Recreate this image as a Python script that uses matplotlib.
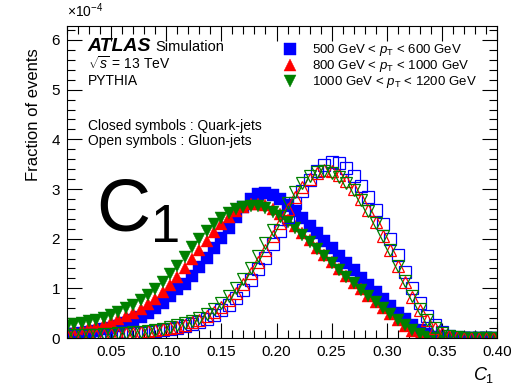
import numpy as np
import matplotlib
matplotlib.use("Agg")
import matplotlib.pyplot as plt
from matplotlib.ticker import MultipleLocator

plt.rcParams['font.family'] = ['Liberation Sans', 'DejaVu Sans']
plt.rcParams['mathtext.fontset'] = 'custom'
plt.rcParams['mathtext.rm'] = 'Liberation Sans'
plt.rcParams['mathtext.it'] = 'Liberation Sans:italic'

# bin centres of C1 (bin width 1/150)
c1 = np.round(0.01 + np.arange(59) / 150.0, 4)

# fraction of events, units of 1e-4
quark_500 = [0.08, 0.09, 0.11, 0.13, 0.15, 0.18, 0.21, 0.25, 0.30, 0.36,
             0.43, 0.51, 0.60, 0.71, 0.84, 0.98, 1.08, 1.25, 1.43, 1.62,
             1.82, 2.02, 2.22, 2.44, 2.64, 2.80, 2.90, 2.92, 2.88, 2.80,
             2.68, 2.55, 2.41, 2.26, 2.11, 1.96, 1.81, 1.66, 1.51, 1.36,
             1.21, 1.06, 0.92, 0.78, 0.64, 0.51, 0.38, 0.26, 0.16, 0.08,
             0.03, 0.01, 0.0, 0.0, 0.0, 0.0, 0.0, 0.0, 0.0]
quark_800 = [0.15, 0.17, 0.19, 0.22, 0.25, 0.29, 0.33, 0.38, 0.44, 0.51,
             0.59, 0.68, 0.79, 0.92, 1.06, 1.22, 1.40, 1.59, 1.78, 1.96,
             2.14, 2.30, 2.44, 2.56, 2.64, 2.69, 2.70, 2.67, 2.60, 2.50,
             2.38, 2.25, 2.11, 1.97, 1.82, 1.67, 1.53, 1.39, 1.25, 1.11,
             0.98, 0.85, 0.72, 0.60, 0.48, 0.36, 0.25, 0.15, 0.07, 0.02,
             0.0, 0.0, 0.0, 0.0, 0.0, 0.0, 0.0, 0.0, 0.0]
quark_1000 = [0.25, 0.28, 0.31, 0.34, 0.37, 0.41, 0.47, 0.53, 0.60, 0.67,
              0.76, 0.87, 0.99, 1.13, 1.29, 1.46, 1.64, 1.83, 2.00, 2.16,
              2.30, 2.42, 2.52, 2.59, 2.64, 2.66, 2.65, 2.61, 2.54, 2.45,
              2.34, 2.21, 2.08, 1.93, 1.79, 1.65, 1.51, 1.37, 1.23, 1.10,
              0.97, 0.84, 0.72, 0.60, 0.48, 0.37, 0.26, 0.16, 0.08, 0.03,
              0.01, 0.0, 0.0, 0.0, 0.0, 0.0, 0.0, 0.0, 0.0]
gluon_500 = [0.05, 0.05, 0.05, 0.06, 0.06, 0.07, 0.07, 0.08, 0.09, 0.10,
             0.11, 0.12, 0.14, 0.16, 0.18, 0.21, 0.24, 0.28, 0.33, 0.39,
             0.47, 0.56, 0.67, 0.81, 0.97, 1.16, 1.38, 1.62, 1.89, 2.16,
             2.44, 2.71, 2.96, 3.18, 3.36, 3.49, 3.55, 3.52, 3.42, 3.27,
             3.07, 2.84, 2.58, 2.30, 2.00, 1.67, 1.33, 1.00, 0.70, 0.45,
             0.26, 0.13, 0.05, 0.02, 0.0, 0.0, 0.0, 0.0, 0.0]
gluon_800 = [0.05, 0.05, 0.06, 0.06, 0.07, 0.07, 0.08, 0.09, 0.10, 0.11,
             0.12, 0.14, 0.16, 0.18, 0.20, 0.23, 0.27, 0.32, 0.37, 0.44,
             0.53, 0.63, 0.76, 0.91, 1.09, 1.30, 1.53, 1.78, 2.05, 2.32,
             2.59, 2.84, 3.05, 3.21, 3.32, 3.38, 3.37, 3.29, 3.16, 3.00,
             2.80, 2.58, 2.33, 2.06, 1.77, 1.45, 1.13, 0.83, 0.57, 0.36,
             0.20, 0.10, 0.04, 0.015, 0.0, 0.0, 0.0, 0.0, 0.0]
gluon_1000 = [0.06, 0.06, 0.06, 0.07, 0.07, 0.08, 0.09, 0.10, 0.11, 0.12,
              0.13, 0.15, 0.17, 0.19, 0.22, 0.26, 0.30, 0.35, 0.41, 0.49,
              0.59, 0.70, 0.84, 1.00, 1.19, 1.41, 1.65, 1.91, 2.18, 2.45,
              2.71, 2.94, 3.13, 3.26, 3.34, 3.36, 3.33, 3.25, 3.12, 2.97,
              2.78, 2.56, 2.32, 2.06, 1.78, 1.46, 1.14, 0.84, 0.58, 0.37,
              0.21, 0.10, 0.04, 0.015, 0.0, 0.0, 0.0, 0.0, 0.0]

labels = [r'500 GeV < $p_{\rm T}$ < 600 GeV',
          r'800 GeV < $p_{\rm T}$ < 1000 GeV',
          r'1000 GeV < $p_{\rm T}$ < 1200 GeV']
colors = ['#0000ff', '#ff0000', '#008000']
markers = ['s', '^', 'v']
sizes = [8.0, 9.0, 9.0]

fig = plt.figure(figsize=(5.21, 3.89), dpi=100)
ax = fig.add_axes([0.1286, 0.131, 0.8254, 0.802])

quarks = [quark_500, quark_800, quark_1000]
gluons = [gluon_500, gluon_800, gluon_1000]

handles = []
for q, col, m, ms, lab in zip(quarks, colors, markers, sizes, labels):
    h, = ax.plot(c1, q, ls='none', marker=m, ms=ms, color=col,
                 mec=col, mew=0.3, label=lab)
    handles.append(h)
for g, col, m, ms in zip(gluons, colors, markers, sizes):
    ax.plot(c1, g, ls='none', marker=m, ms=ms, mfc='none', mec=col, mew=0.9)

ax.set_xlim(0.01, 0.40)
ax.set_ylim(0, 6.28)

ax.xaxis.set_minor_locator(MultipleLocator(0.01))
ax.yaxis.set_major_locator(MultipleLocator(1))
ax.yaxis.set_minor_locator(MultipleLocator(0.2))
ax.set_xticks([0.05, 0.10, 0.15, 0.20, 0.25, 0.30, 0.35, 0.40])
ax.set_xticklabels(['0.05', '0.10', '0.15', '0.20', '0.25', '0.30', '0.35', '0.40'])
ax.tick_params(which='both', direction='in', top=True, right=True,
               labelsize=11, width=0.8)
ax.tick_params(which='major', length=11, pad=5)
ax.tick_params(which='minor', length=5.5)
for s in ax.spines.values():
    s.set_linewidth(0.8)

ax.set_ylabel('Fraction of events', fontsize=12, ha='right')
ax.yaxis.set_label_coords(-0.06, 0.93)
ax.set_xlabel(r'$C_1$', fontsize=13, ha='right', va='center')
ax.xaxis.set_label_coords(0.995, -0.118)

fig.text(0.129, 0.948, r'$\times 10^{-4}$', fontsize=10, ha='left', va='bottom')

ax.text(0.048, 0.933, 'ATLAS', transform=ax.transAxes, fontsize=14,
        fontweight='bold', fontstyle='italic', va='center')
ax.text(0.205, 0.933, 'Simulation', transform=ax.transAxes, fontsize=10.5,
        va='center')
ax.text(0.048, 0.881, r'$\sqrt{s}$ = 13 TeV', transform=ax.transAxes,
        fontsize=10, va='center')
ax.text(0.048, 0.824, 'PYTHIA', transform=ax.transAxes, fontsize=10,
        va='center')
ax.text(0.048, 0.679, 'Closed symbols : Quark-jets', transform=ax.transAxes,
        fontsize=10, va='center')
ax.text(0.048, 0.631, 'Open symbols : Gluon-jets', transform=ax.transAxes,
        fontsize=10, va='center')
ax.text(0.068, 0.405, r'C$_1$', transform=ax.transAxes, fontsize=54,
        va='center')

ax.legend(handles=handles, loc='upper left', bbox_to_anchor=(0.49, 0.965),
          frameon=False, fontsize=9.5, handlelength=1.0, handletextpad=1.2,
          labelspacing=0.0, borderaxespad=0)

fig.savefig('out.png', dpi=100)
